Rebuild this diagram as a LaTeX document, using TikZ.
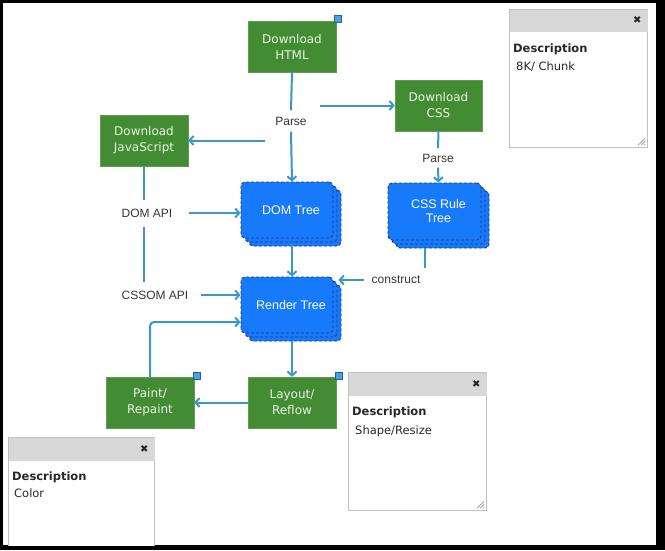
\documentclass[tikz,border=0pt]{standalone}
\usepackage{fontspec}
\setmainfont{Liberation Sans}
\newfontfamily\dsans{DejaVu Sans}
\usetikzlibrary{arrows.meta,shadows,calc}

\definecolor{gbox}{RGB}{68,140,52}
\definecolor{gtext}{RGB}{232,245,225}
\definecolor{bbox}{RGB}{22,122,250}
\definecolor{bedge}{RGB}{28,58,140}
\definecolor{conn}{RGB}{58,152,200}
\definecolor{lbl}{RGB}{55,55,55}
\definecolor{phead}{RGB}{216,216,216}
\definecolor{pedge}{RGB}{192,192,192}
\definecolor{handlec}{RGB}{70,165,225}
\definecolor{ptext}{RGB}{40,40,40}

\tikzset{
  greenbox/.style={fill=gbox, draw=gbox!85!white, minimum width=88pt, minimum height=51pt,
    text=gtext, font=\dsans\fontsize{12}{16}\selectfont, align=center, inner sep=0pt},
  bluebox/.style={fill=bbox, draw=bedge, densely dashed, line width=0.9pt, rounded corners=4pt,
    minimum width=92pt, minimum height=56pt, text=white, font=\fontsize{12.5}{14}\selectfont,
    align=center, inner sep=0pt,
    double copy shadow={shadow xshift=4pt, shadow yshift=-4pt, fill=bbox, draw=bedge, densely dashed, line width=0.9pt}},
  lblnode/.style={text=lbl, font=\fontsize{12}{14}\selectfont, inner sep=0pt, minimum height=9pt},
  wire/.style={draw=conn, line width=2pt},
  arr/.style={wire, -{Straight Barb[length=4pt,width=9pt,line width=2pt]}},
  handle/.style={fill=handlec, draw=handlec!60!black, minimum size=7pt, inner sep=0pt, line width=0.6pt},
  panel/.style={draw=pedge, fill=white, line width=1.2pt, anchor=north west, inner sep=0pt, minimum width=138pt, minimum height=138pt},
  xmark/.style={font=\dsans\fontsize{10}{10}\selectfont, text=black!85, inner sep=0pt},
  desctitle/.style={font=\dsans\bfseries\fontsize{11.5}{13}\selectfont, text=ptext, inner sep=0pt, anchor=base west},
  descval/.style={font=\dsans\fontsize{11.5}{13}\selectfont, text=ptext, inner sep=0pt, anchor=base west},
  grip/.style={draw=gray!80, line width=0.7pt}
}

\begin{document}
\begin{tikzpicture}[x=1pt,y=-1pt]
\useasboundingbox (0,0) rectangle (665,550);
\fill[black] (0,0) rectangle (665,550);
\fill[white] (3,3) rectangle (656,545);

% main boxes
\node[greenbox] (html) at (292,46.5) {Download\\HTML};
\node[greenbox, minimum width=87pt] (css) at (438.5,105.5) {Download\\CSS};
\node[greenbox] (js) at (144,140.5) {Download\\JavaScript};
\node[bluebox] (dom) at (287,210) {\hspace*{8pt}DOM Tree};
\node[bluebox, minimum width=93pt, minimum height=57pt] (rule) at (434.5,211.5) {\hspace*{8pt}CSS Rule\\\hspace*{8pt}Tree};
\node[bluebox] (render) at (287,305) {\hspace*{8pt}Render Tree};
\node[greenbox] (paint) at (150,402.5) {Paint/\\Repaint};
\node[greenbox] (layout) at (292,402.5) {Layout/\\Reflow};

% handles
\node[handle] (h1) at ($(html.north east)+(1.5,-2.5)$) {};
\node[handle] (h2) at ($(paint.north east)+(2.5,-1)$) {};
\node[handle] (h3) at ($(layout.north east)+(2.5,-1)$) {};

% labels
\node[lblnode] (parse1) at (291,121) {Parse};
\node[lblnode] (parse2) at (438,158) {Parse};
\node[lblnode] (domapi) at (147,213) {DOM API};
\node[lblnode] (cssomapi) at (155,295) {CSSOM API};
\node[lblnode] (cons) at (396,280) {construct};

\coordinate (pr) at (320,105.5);
\coordinate (pl) at (265,140.5);

% connectors
\draw[wire] (html.south) -- ($(parse1.north)+(0,-6)$);
\draw[arr] ($(parse1.south)+(0,6)$) -- (html.south |- dom.north);
\draw[arr] (pr) -- (pr -| css.west);
\draw[arr] (pl) -- (pl -| js.east);
\draw[wire] (css.south) -- ($(parse2.north)+(0,-5)$);
\draw[arr] ($(parse2.south)+(0,5)$) -- (css.south |- rule.north);
\draw[wire] (js.south) -- ($(js.south |- domapi.north)+(0,-8)$);
\draw[wire] ($(js.south |- domapi.south)+(0,9)$) -- ($(js.south |- cssomapi.north)+(0,-8)$);
\draw[arr] ($(domapi.east)+(16,0)$) -- (domapi.east -| dom.west);
\draw[arr] ($(cssomapi.east)+(12,0)$) -- (cssomapi.east -| render.west);
\draw[arr] ($(dom.south -| html.south)+(0,6)$) -- (html.south |- render.north);
\draw[arr] ($(render.south -| layout.north)+(0,8)$) -- (layout.north);
\draw[arr] (layout.west) -- (paint.east);
\draw[arr, rounded corners=4pt] (paint.north) |- ($(render.west)+(0,17)$);
\draw[wire] ($(rule.south)+(-10,8)$) -- ($(rule.south)+(-10,28)$);
\draw[arr] ($(cons.west)+(-7,0)$) -- ($(cons.west -| render.east)+(5,0)$);

% description panels
\node[panel] (p1) at (509,9) {};
\fill[phead] ($(p1.north west)+(0.6,0.6)$) rectangle ($(p1.north east)+(-0.6,23)$);
\node[xmark] (x1) at ($(p1.north east)+(-11,11.5)$) {✖};
\node[desctitle] (d1) at (513,52) {Description};
\node[descval] (v1) at (516,70) {8K/ Chunk};
\draw[grip] ($(p1.south east)+(-3,-10)$) -- ($(p1.south east)+(-10,-3)$);
\draw[grip] ($(p1.south east)+(-3,-7)$) -- ($(p1.south east)+(-7,-3)$);
\draw[grip] ($(p1.south east)+(-3,-4)$) -- ($(p1.south east)+(-4,-3)$);

\node[panel] (p2) at (348,372) {};
\fill[phead] ($(p2.north west)+(0.6,0.6)$) rectangle ($(p2.north east)+(-0.6,24)$);
\node[xmark] (x2) at ($(p2.north east)+(-11,12)$) {✖};
\node[desctitle] (d2) at (352,415) {Description};
\node[descval] (v2) at (355,434) {Shape/Resize};
\draw[grip] ($(p2.south east)+(-3,-10)$) -- ($(p2.south east)+(-10,-3)$);
\draw[grip] ($(p2.south east)+(-3,-7)$) -- ($(p2.south east)+(-7,-3)$);
\draw[grip] ($(p2.south east)+(-3,-4)$) -- ($(p2.south east)+(-4,-3)$);

\begin{scope}
\clip (3,3) rectangle (656,545);
\node[panel, minimum width=146pt, minimum height=130pt] (p3) at (8,437) {};
\fill[phead] ($(p3.north west)+(0.6,0.6)$) rectangle ($(p3.north east)+(-0.6,24)$);
\end{scope}
\node[xmark] (x3) at ($(p3.north east)+(-11,12.5)$) {✖};
\node[desctitle] (d3) at (12,480) {Description};
\node[descval] (v3) at (14,497) {Color};
\end{tikzpicture}
\end{document}
